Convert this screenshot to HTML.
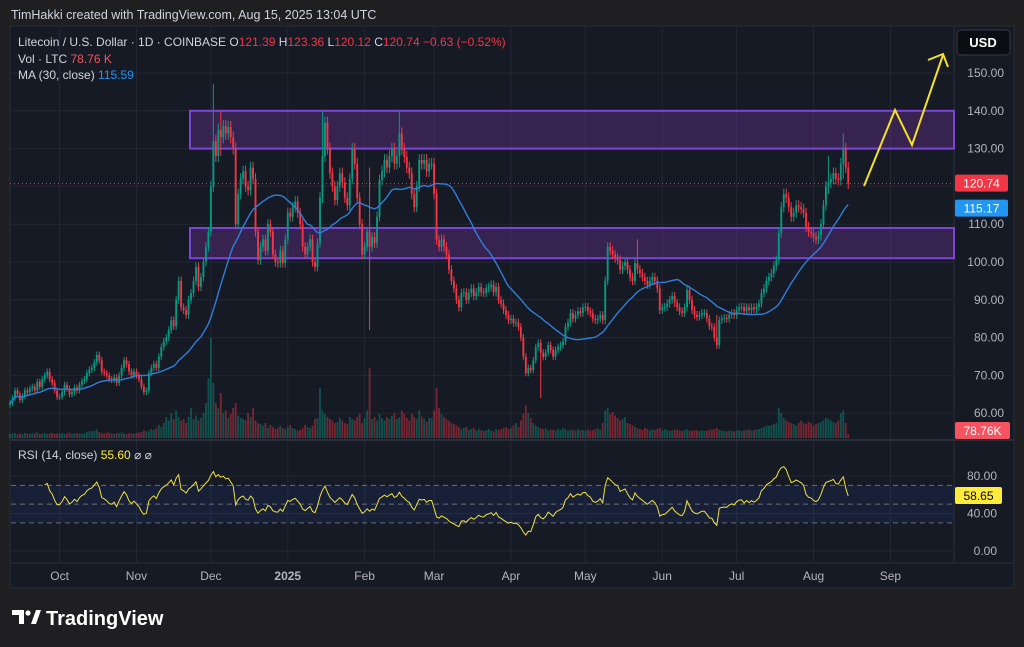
<!DOCTYPE html>
<html><head><meta charset="utf-8"><style>
html,body{margin:0;padding:0;background:#1f1f22;}
svg{display:block;font-family:"Liberation Sans",sans-serif;}
</style></head><body>
<svg id="c" width="1024" height="647" viewBox="0 0 1024 647">
<rect x="0" y="0" width="1024" height="647" fill="#1f1f22"/>
<text x="11" y="19" fill="#d1d4dc" font-size="12.5">TimHakki created with TradingView.com, Aug 15, 2025 13:04 UTC</text>
<rect x="10" y="26" width="1004" height="562" fill="#161a25" stroke="#2a2e39"/>
<g id="grid"></g>
<g id="zones"></g>
<g id="vol"></g>
<g id="candles"></g>
<g id="ind"></g>
<g id="axes"></g>
<g font-size="12">
<text x="18" y="46" fill="#d1d4dc">Litecoin / U.S. Dollar · 1D · COINBASE <tspan fill="#d1d4dc">O</tspan><tspan fill="#f23645">121.39</tspan> <tspan fill="#d1d4dc">H</tspan><tspan fill="#f23645">123.36</tspan> <tspan fill="#d1d4dc">L</tspan><tspan fill="#f23645">120.12</tspan> <tspan fill="#d1d4dc">C</tspan><tspan fill="#f23645">120.74 −0.63 (−0.52%)</tspan></text>
<text x="18" y="63" fill="#d1d4dc">Vol · LTC <tspan fill="#f7525f"> 78.76 K</tspan></text>
<text x="18" y="79" fill="#d1d4dc">MA (30, close) <tspan fill="#2196f3"> 115.59</tspan></text>
<text x="18" y="459" fill="#d1d4dc">RSI (14, close) <tspan fill="#ffeb3b"> 55.60</tspan>  ⌀  ⌀</text>
</g>
<g>
<rect x="957" y="30" width="53" height="25" rx="4" fill="#0b0d12" stroke="#363a45"/>
<text x="983" y="47" fill="#ffffff" font-size="13" font-weight="bold" text-anchor="middle">USD</text>
</g>
<g stroke="#f5e12a" stroke-width="2" fill="none" stroke-linejoin="miter">
<polyline points="864,186 895,110 912,145 943,55"/>
<polyline points="928,60 943,54 948,67"/>
</g>
<g>
<path d="M12 610 h12 v14 h-5 v-9 h-7z" fill="#ffffff"/>
<circle cx="28" cy="613" r="2.6" fill="#ffffff"/>
<path d="M31 624 l5 -14 h5 l-5 14z" fill="#ffffff"/>
<text x="46" y="625" fill="#ffffff" font-size="20" font-weight="bold">TradingView</text>
</g>
</svg>
<script>
const closes=[62.7,64,66,65,63.5,64.5,66,65.5,66.5,67,
66,68.3,67,69,70,71,69,68,66,64.3,
64.3,65.5,67.5,66.5,65,65.6,66.8,66,67.5,68.5,
69,70.6,71.5,72,73.5,75.4,74,71,70.6,70,
69,68.8,69.5,68,70,72,74,73,71,70,
71,70,69,67,65.6,66,70.6,72,73,72,
75,77.5,79,80,82,84.6,83,90,95,88,
87.3,86,90,91.8,95,98.7,93.4,96,100,104,
108,120,132,128,135,133,136,134,135.7,133,
130,110,118,122,124,120,119,125,122,108,
100.5,104,106,103,110,108,102,100,99.7,103,
99.7,106,113,112,114.5,116,113,110,104,102,
104,106,100,98.7,105,117,128,136.8,130,123.5,
120,116.4,120,123.5,121,117,115,122,130,126,
117,110,102,104,108,104,106.6,105,112,121.7,
124,127,125,128,130,126,128,134,130,127.8,
125,123.5,118,114.5,120,127,126,127,124,126,
126,118,105.8,104,106,104,102,98,95,93,
90,88,91.8,92,90,91.8,93,91,92,93.4,
92,91.8,93,93.4,94,92,93.4,90,89,87.3,
86,84.6,85,83.9,84,82.8,80,75,70.6,72,
71.4,74,77.5,78.6,76,74.9,76,78,76.7,75,
76.7,77.5,78,79,82.8,84,86.5,85,86,87,
86.5,88,88.1,87,86.5,85,84.6,85,86,84.6,
95,104,103,102,101,100.5,98,99,100,98,
96,95,99.7,98,97,96,95,94,95,96,
95,93,87.3,88,88.1,89,90,91,89.2,88,
87,86.5,88,92.6,90,87.3,86,85.5,86,86.5,
86.5,85,83,82.8,80,78,84.6,85,85.2,85,
86,86.5,86,87.3,88,88.1,87,88,87.3,88,
87.5,88.1,89,91.8,93,95,96,97,99,100.5,
107.7,114.5,118,117,114.5,112,113,115,114.5,114,
113,109.3,108,107.7,106.6,106,107,110,115,120,
121,122,123.5,122,121.7,126,130,125,120.74];
const volumes=[80,90,100,70,90,80,100,90,80,90,
90,110,80,90,100,80,90,100,80,90,
90,100,80,90,110,80,90,100,90,80,
100,120,140,130,150,170,120,100,90,110,
100,90,80,100,90,110,90,80,100,90,
90,100,110,120,150,130,140,180,160,200,
260,220,300,420,350,500,380,560,420,350,
380,300,420,600,380,450,350,400,500,700,
1200,2000,1100,700,600,900,500,550,400,480,
600,700,450,400,380,350,500,420,600,350,
300,280,250,300,200,260,220,180,200,250,
200,180,220,260,200,180,150,160,200,260,
220,200,250,380,400,1000,550,480,420,380,
350,300,320,400,350,300,280,420,380,350,
420,480,300,400,550,1400,380,420,350,480,
400,350,420,380,450,500,380,420,550,480,
400,350,480,420,380,560,430,380,320,400,
400,550,1000,600,480,420,380,350,300,280,
250,220,180,200,220,160,180,200,150,180,
150,140,160,180,150,130,170,160,180,200,
220,180,200,250,300,220,350,480,650,500,
400,300,250,220,200,180,190,150,170,160,
150,180,160,200,180,150,170,160,150,180,
150,160,140,170,150,160,180,200,160,300,
550,600,480,520,450,400,350,380,420,300,
280,250,220,200,180,160,200,180,150,170,
160,180,200,150,170,160,140,150,160,170,
150,140,160,170,150,140,160,150,140,150,
140,150,160,170,180,200,160,150,140,130,
150,140,130,150,160,140,150,160,170,150,
160,170,180,200,220,250,240,260,280,300,
600,500,400,350,320,300,280,250,300,350,
300,280,320,300,250,280,300,320,350,400,
380,350,320,300,350,500,550,300,79];
const wickDays=[82,85,126,145,157,214,253,285,330,336];
const wickHighs=[147,140,140,125,140,78,106,86,128,134];
const wickLows=[125,128,122,82,125,64,97,77,118,122];
const priceTicks=[150,140,130,120,110,100,90,80,70,60];
const rsiTicks=[80,40,0];
const months=["Oct","Nov","Dec","2025","Feb","Mar","Apr","May","Jun","Jul","Aug","Sep"];
const monthDays=[20,51,81,112,143,171,202,232,263,293,324,355];

const NS="http://www.w3.org/2000/svg";
function mk(parent,tag,attrs){const e=document.createElementNS(NS,tag);for(const k in attrs)e.setAttribute(k,attrs[k]);parent.appendChild(e);return e;}
const X=i=>10+i*2.48;
const Y=p=>262-(p-100)*3.78;
const YV=v=>438-v*0.05;
const YR=r=>551-r*0.9375;
const G=document.getElementById('grid'),Z=document.getElementById('zones'),V=document.getElementById('vol'),C=document.getElementById('candles'),I=document.getElementById('ind'),A=document.getElementById('axes');

monthDays.forEach((d,k)=>{const l=mk(G,'line',{x1:X(d),x2:X(d),y1:27,y2:563,stroke:'#232733','stroke-width':1});

});
priceTicks.forEach(p=>{const l=mk(G,'line',{x1:11,x2:954,y1:Y(p),y2:Y(p),stroke:'#232733'});

});
[80,40,0].forEach(r=>{const l=mk(G,'line',{x1:11,x2:954,y1:YR(r),y2:YR(r),stroke:'#232733'});

});
let sep=mk(G,'line',{x1:10,x2:1014,y1:440,y2:440,stroke:'#2a2e39','stroke-width':2});


let sep2=mk(G,'line',{x1:10,x2:1014,y1:563,y2:563,stroke:'#2a2e39'});


let sep3=mk(G,'line',{x1:954,x2:954,y1:27,y2:563,stroke:'#2a2e39'});



[[140,130],[109,101]].forEach(z=>{const r=mk(Z,'rect',{x:190,y:Y(z[0]),width:764,height:Y(z[1])-Y(z[0]),fill:'rgba(123,55,170,0.33)',stroke:'#7c45d8','stroke-width':2});

});
let pl=mk(Z,'line',{x1:10,x2:954,y1:Y(closes[closes.length-1]),y2:Y(closes[closes.length-1]),stroke:'#f23645','stroke-dasharray':'1 3'});



closes.forEach((c,i)=>{
 const o=i?closes[i-1]:c-0.5;
 const up=c>=o;
 let hi=Math.max(o,c)*1.012,lo=Math.min(o,c)*0.988;
 const w=wickDays.indexOf(i);
 if(w>=0){hi=Math.max(hi,wickHighs[w]);lo=Math.min(lo,wickLows[w]);}
 const col=up?'#089981':'#f23645';
 const v=mk(V,'rect',{x:X(i)-0.9,y:YV(volumes[i]),width:1.8,height:438-YV(volumes[i]),fill:up?'rgba(8,153,129,0.45)':'rgba(242,54,69,0.45)'});
 
 
 const wk=mk(C,'line',{x1:X(i),x2:X(i),y1:Y(hi),y2:Y(lo),stroke:col,'stroke-width':1});
 
 
 const b=mk(C,'rect',{x:X(i)-0.95,y:Y(Math.max(o,c)),width:1.9,height:Math.max(1,Math.abs(Y(o)-Y(c))),fill:col});
 
 
});

let ma=[];closes.forEach((c,i)=>{const s=closes.slice(Math.max(0,i-29),i+1);ma.push(s.reduce((a,b)=>a+b,0)/s.length);});
let mp=mk(I,'path',{d:ma.map((m,i)=>(i?'L':'M')+X(i).toFixed(1)+' '+Y(m).toFixed(1)).join(''),stroke:'#2f7fd8',fill:'none','stroke-width':1.4});



let band=mk(I,'rect',{x:11,y:YR(70),width:943,height:YR(30)-YR(70),fill:'rgba(41,98,255,0.09)'});


[70,50,30].forEach(r=>{const l=mk(I,'line',{x1:11,x2:954,y1:YR(r),y2:YR(r),stroke:'#6a6d78','stroke-dasharray':'5 4','stroke-width':1});

});
let ag=0,al=0,rsi=[];
closes.forEach((c,i)=>{if(!i){rsi.push(50);return;}const d=c-closes[i-1];const g=Math.max(d,0),l=Math.max(-d,0);
 if(i<=14){ag=(ag*(i-1)+g)/i;al=(al*(i-1)+l)/i;}else{ag=(ag*13+g)/14;al=(al*13+l)/14;}
 rsi.push(al===0?100:100-100/(1+ag/al));});
let rp=mk(I,'path',{d:rsi.slice(14).map((r,j)=>(j?'L':'M')+X(j+14).toFixed(1)+' '+YR(r).toFixed(1)).join(''),stroke:'#f0e040',fill:'none','stroke-width':1});



priceTicks.forEach(p=>{const t=mk(A,'text',{x:1004,y:Y(p)+4,fill:'#b2b5be','font-size':12,'text-anchor':'end'});t.textContent=p.toFixed(2);

});
rsiTicks.forEach(r=>{const t=mk(A,'text',{x:997,y:YR(r)+4,fill:'#b2b5be','font-size':12,'text-anchor':'end'});t.textContent=r.toFixed(2);

});
months.forEach((m,k)=>{const t=mk(A,'text',{x:X(monthDays[k]),y:580,fill:'#b2b5be','font-size':12,'text-anchor':'middle','font-weight':m==='2025'?'bold':'normal'});t.textContent=m;

});
function badge(y,txt,bg,fg,w,name){const g=mk(A,'g',{});
 mk(g,'rect',{x:955,y:y-9,width:w,height:17,rx:2,fill:bg});const t=mk(g,'text',{x:955+w/2,y:y+4,fill:fg,'font-size':12,'text-anchor':'middle'});t.textContent=txt;}
const last=closes[closes.length-1];
badge(Y(last),last.toFixed(2),'#f23645','#ffffff',53,'last-price-badge');
badge(Y(ma[ma.length-1])+4,ma[ma.length-1].toFixed(2),'#2196f3','#ffffff',53,'ma-value-badge');
badge(431,(volumes[volumes.length-1]-0.24).toFixed(2)+'K','#f7525f','#ffffff',55,'volume-value-badge');
badge(YR(rsi[rsi.length-1]),rsi[rsi.length-1].toFixed(2),'#ffeb3b','#000000',47,'rsi-value-badge');
</script>
</body></html>
